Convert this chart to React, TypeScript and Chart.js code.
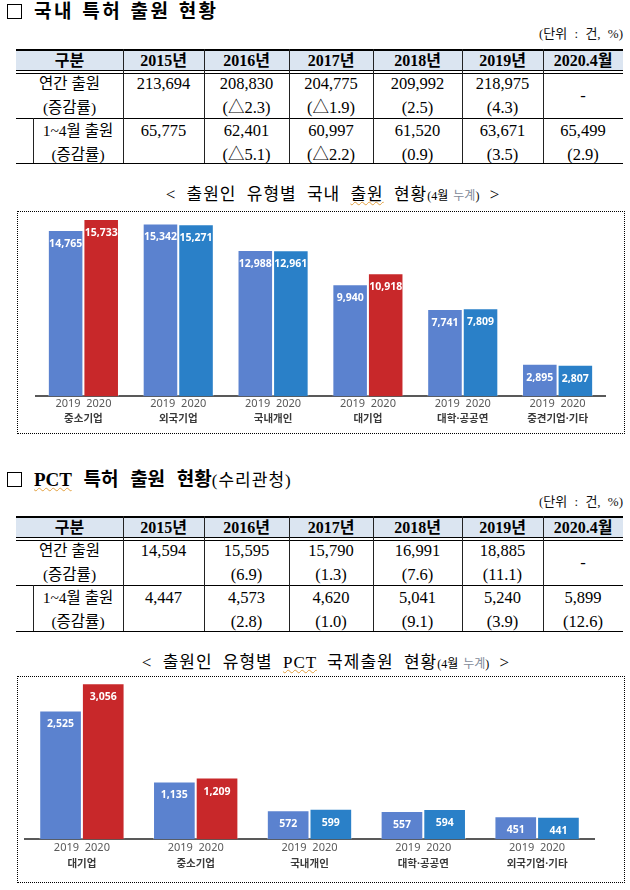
import React, { useEffect, useRef } from "react";
import { Chart, registerables } from "chart.js";

Chart.register(...registerables);

// ---------- data ----------
const seriesYears = ["2019", "2020"];

const domCategories = ["중소기업", "외국기업", "국내개인", "대기업", "대학·공공연", "중견기업·기타"];
const dom2019 = [14765, 15342, 12988, 9940, 7741, 2895];
const dom2020 = [15733, 15271, 12961, 10918, 7809, 2807];
const domHighlight = ["중소기업", "대기업"];

const pctCategories = ["대기업", "중소기업", "국내개인", "대학·공공연", "외국기업·기타"];
const pct2019 = [2525, 1135, 572, 557, 451];
const pct2020 = [3056, 1209, 599, 594, 441];
const pctHighlight = ["대기업", "중소기업"];

const tableYears = ["2015년", "2016년", "2017년", "2018년", "2019년", "2020.4월"];
const domAnnual = ["213,694", "208,830", "204,775", "209,992", "218,975", "-"];
const domAnnualRate = ["", "(△2.3)", "(△1.9)", "(2.5)", "(4.3)", ""];
const domJanApr = ["65,775", "62,401", "60,997", "61,520", "63,671", "65,499"];
const domJanAprRate = ["", "(△5.1)", "(△2.2)", "(0.9)", "(3.5)", "(2.9)"];

const pctAnnual = ["14,594", "15,595", "15,790", "16,991", "18,885", "-"];
const pctAnnualRate = ["", "(6.9)", "(1.3)", "(7.6)", "(11.1)", ""];
const pctJanApr = ["4,447", "4,573", "4,620", "5,041", "5,240", "5,899"];
const pctJanAprRate = ["", "(2.8)", "(1.0)", "(9.1)", "(3.9)", "(12.6)"];

// ---------- styles ----------
const SERIF = '"Liberation Serif", "Noto Sans CJK KR", serif';
const KR = '"Noto Sans", "Noto Sans CJK KR", sans-serif';
const BLUE19 = "#5b82cf";
const BLUE20 = "#2a80c8";
const RED = "#c8282a";
const wavy: React.CSSProperties = {
  textDecorationLine: "underline",
  textDecorationStyle: "wavy",
  textDecorationColor: "#e2a040",
  textDecorationThickness: "1px",
};

const valueLabels = {
  id: "valueLabels",
  afterDatasetsDraw(chart: any) {
    const ctx = chart.ctx;
    ctx.save();
    ctx.font = 'bold 10.5px "Noto Sans", sans-serif';
    ctx.fillStyle = "#ffffff";
    ctx.textAlign = "center";
    ctx.textBaseline = "middle";
    chart.data.datasets.forEach((ds: any, i: number) => {
      const meta = chart.getDatasetMeta(i);
      meta.data.forEach((bar: any, j: number) => {
        const v = ds.data[j] as number;
        ctx.fillText(v.toLocaleString("en-US"), bar.x, bar.y + 14);
      });
    });
    ctx.restore();
  },
};

type BarsProps = {
  categories: string[];
  v2019: number[];
  v2020: number[];
  highlight: string[];
  yMax: number;
  left: number;
  top: number;
  width: number;
  height: number;
  pad: { left: number; right: number; top: number; bottom: number };
  yearPad: number;
  catPad: number;
};

function GroupedBars(p: BarsProps) {
  const ref = useRef<HTMLCanvasElement>(null);
  useEffect(() => {
    const chart = new Chart(ref.current as HTMLCanvasElement, {
      type: "bar",
      data: {
        labels: p.categories,
        datasets: [
          {
            label: seriesYears[0],
            data: p.v2019,
            backgroundColor: BLUE19,
            borderColor: "rgba(255,255,255,0.35)",
            borderWidth: 1,
            categoryPercentage: 0.75,
            barPercentage: 1,
          },
          {
            label: seriesYears[1],
            data: p.v2020,
            backgroundColor: p.categories.map((c) => (p.highlight.includes(c) ? RED : BLUE20)),
            borderColor: "rgba(255,255,255,0.35)",
            borderWidth: 1,
            categoryPercentage: 0.75,
            barPercentage: 1,
          },
        ],
      },
      options: {
        responsive: false,
        animation: false,
        events: [],
        layout: { padding: p.pad },
        plugins: { legend: { display: false }, tooltip: { enabled: false } },
        scales: {
          x: {
            weight: 0,
            offset: true,
            grid: { display: false, drawTicks: false },
            border: { display: true, color: "#595959", width: 2 },
            ticks: {
              callback: () => seriesYears.join("  "),
              color: "#595959",
              font: { family: '"Noto Sans", sans-serif', size: 11 },
              padding: p.yearPad,
              autoSkip: false,
              maxRotation: 0,
            },
          },
          x2: {
            type: "category",
            labels: p.categories,
            position: "bottom",
            weight: 1,
            offset: true,
            grid: { display: false, drawTicks: false },
            border: { display: false },
            ticks: {
              color: "#3a3a3a",
              font: { family: KR, size: 10.5, weight: "bold" },
              padding: p.catPad,
              autoSkip: false,
              maxRotation: 0,
            },
          },
          y: { display: false, min: 0, max: p.yMax },
        },
      } as any,
      plugins: [valueLabels],
    });
    return () => chart.destroy();
  }, []);
  return (
    <canvas
      ref={ref}
      width={p.width}
      height={p.height}
      style={{ position: "absolute", left: p.left, top: p.top, width: p.width, height: p.height }}
    />
  );
}

const colX = [16, 123, 204, 289, 373, 462, 543, 623];

function Txt(props: {
  x0: number;
  x1: number;
  cy: number;
  children: React.ReactNode;
  bold?: boolean;
  size?: number;
}) {
  return (
    <div
      style={{
        position: "absolute",
        left: props.x0,
        width: props.x1 - props.x0,
        top: props.cy - 10,
        height: 20,
        lineHeight: "20px",
        textAlign: "center",
        fontFamily: SERIF,
        fontSize: props.size ?? 16.5,
        fontWeight: props.bold ? 700 : 400,
        whiteSpace: "nowrap",
        color: "#000",
      }}
    >
      {props.children}
    </div>
  );
}

function HLine({ y, h }: { y: number; h: number }) {
  return <div style={{ position: "absolute", left: 16, top: y, width: 607, height: h, background: "#000" }} />;
}

function StatTable(props: {
  top: number;
  headerBottom: number;
  row1Bottom: number;
  row2Bottom: number;
  annual: string[];
  annualRate: string[];
  janApr: string[];
  janAprRate: string[];
}) {
  const { top, headerBottom, row1Bottom, row2Bottom } = props;
  const r1 = headerBottom + 4;
  const hc = (top + 2 + headerBottom) / 2;
  const els: React.ReactNode[] = [];
  els.push(
    <div
      key="bg"
      style={{ position: "absolute", left: 16, top, width: 607, height: headerBottom - top, background: "#dbe5f1" }}
    />
  );
  els.push(<HLine key="t" y={top} h={2} />);
  els.push(<HLine key="d1" y={headerBottom} h={1} />);
  els.push(<HLine key="d2" y={headerBottom + 3} h={1} />);
  els.push(<HLine key="r1" y={row1Bottom} h={1} />);
  els.push(<HLine key="r2" y={row2Bottom} h={1} />);
  for (let i = 1; i < colX.length - 1; i++) {
    els.push(
      <div
        key={"v" + i}
        style={{ position: "absolute", left: colX[i], top, width: 1, height: row2Bottom - top, background: "#222" }}
      />
    );
  }
  els.push(
    <div
      key="vs"
      style={{ position: "absolute", left: 33, top: row1Bottom, width: 1, height: row2Bottom - row1Bottom, background: "#222" }}
    />
  );
  els.push(
    <Txt key="h0" x0={colX[0]} x1={colX[1]} cy={hc} bold size={16}>
      구분
    </Txt>
  );
  tableYears.forEach((y, i) => {
    els.push(
      <Txt key={"h" + (i + 1)} x0={colX[i + 1]} x1={colX[i + 2]} cy={hc} bold size={16}>
        {y}
      </Txt>
    );
  });
  els.push(
    <Txt key="l1" x0={colX[0]} x1={colX[1]} cy={r1 + 9.5} size={15.5}>
      연간 출원
    </Txt>
  );
  els.push(
    <Txt key="l2" x0={colX[0]} x1={colX[1]} cy={r1 + 34} size={15.5}>
      (증감률)
    </Txt>
  );
  els.push(
    <Txt key="l3" x0={33} x1={colX[1]} cy={row1Bottom + 13} size={15.5}>
      1~4월 출원
    </Txt>
  );
  els.push(
    <Txt key="l4" x0={33} x1={colX[1]} cy={row1Bottom + 36.5} size={15.5}>
      (증감률)
    </Txt>
  );
  props.annual.forEach((v, i) => {
    const isDash = v === "-";
    els.push(
      <Txt key={"a" + i} x0={colX[i + 1]} x1={colX[i + 2]} cy={isDash ? r1 + 22 : r1 + 9.5}>
        {v}
      </Txt>
    );
    if (props.annualRate[i])
      els.push(
        <Txt key={"ar" + i} x0={colX[i + 1]} x1={colX[i + 2]} cy={r1 + 34}>
          {props.annualRate[i]}
        </Txt>
      );
    els.push(
      <Txt key={"j" + i} x0={colX[i + 1]} x1={colX[i + 2]} cy={row1Bottom + 13}>
        {props.janApr[i]}
      </Txt>
    );
    if (props.janAprRate[i])
      els.push(
        <Txt key={"jr" + i} x0={colX[i + 1]} x1={colX[i + 2]} cy={row1Bottom + 36.5}>
          {props.janAprRate[i]}
        </Txt>
      );
  });
  return <>{els}</>;
}

function SectionTitle({
  cy,
  children,
  letterSpacing,
  wordSpacing,
}: {
  cy: number;
  children: React.ReactNode;
  letterSpacing: number;
  wordSpacing: number;
}) {
  return (
    <>
      <div
        style={{
          position: "absolute",
          left: 7,
          top: cy - 8,
          width: 13,
          height: 13,
          border: "1.5px solid #000",
        }}
      />
      <div
        style={{
          position: "absolute",
          left: 34,
          top: cy - 13,
          height: 26,
          lineHeight: "26px",
          fontFamily: SERIF,
          fontSize: 19,
          fontWeight: 700,
          letterSpacing,
          wordSpacing,
          whiteSpace: "nowrap",
          color: "#000",
        }}
      >
        {children}
      </div>
    </>
  );
}

function Unit({ cy }: { cy: number }) {
  return (
    <div
      style={{
        position: "absolute",
        right: 630 - 623,
        top: cy - 9,
        height: 18,
        lineHeight: "18px",
        fontFamily: SERIF,
        fontSize: 13,
        wordSpacing: 4,
        whiteSpace: "nowrap",
        color: "#111",
      }}
    >
      (단위 : 건, %)
    </div>
  );
}

function Caption({ cx, cy, children }: { cx: number; cy: number; children: React.ReactNode }) {
  return (
    <div
      style={{
        position: "absolute",
        left: cx - 300,
        width: 600,
        top: cy - 13,
        height: 26,
        lineHeight: "26px",
        textAlign: "center",
        fontFamily: SERIF,
        fontSize: 17,
        letterSpacing: 1,
        wordSpacing: 5,
        whiteSpace: "nowrap",
        color: "#000",
      }}
    >
      {children}
    </div>
  );
}

function Box({ left, top, right, bottom }: { left: number; top: number; right: number; bottom: number }) {
  return (
    <div
      style={{
        position: "absolute",
        left,
        top,
        width: right - left - 1,
        height: bottom - top - 1,
        border: "1px dotted #000",
      }}
    />
  );
}

const small: React.CSSProperties = { fontSize: 12, letterSpacing: 0, wordSpacing: 2 };

export default function App() {
  return (
    <div
      style={{
        position: "absolute",
        left: 0,
        top: 0,
        width: 630,
        height: 890,
        background: "#fff",
        overflow: "hidden",
      }}
    >
      <SectionTitle cy={12} letterSpacing={2.5} wordSpacing={1}>
        국내 특허 출원 현황
      </SectionTitle>
      <Unit cy={34} />
      <StatTable
        top={49}
        headerBottom={70}
        row1Bottom={118}
        row2Bottom={163}
        annual={domAnnual}
        annualRate={domAnnualRate}
        janApr={domJanApr}
        janAprRate={domJanAprRate}
      />
      <Caption cx={333} cy={195}>
        {"< 출원인 유형별 국내 "}
        <span style={wavy}>출원</span>
        {" 현황"}
        <span style={small}>
          (4월 <span style={{ color: "#7f8a99" }}>누계</span>)
        </span>
        {" >"}
      </Caption>
      <Box left={17} top={211} right={624} bottom={433} />
      <GroupedBars
        categories={domCategories}
        v2019={dom2019}
        v2020={dom2020}
        highlight={domHighlight}
        yMax={16000}
        left={18}
        top={213}
        width={604}
        height={218}
        pad={{ left: 18, right: 17, top: 3, bottom: 2.4 }}
        yearPad={0.4}
        catPad={2.8}
      />

      <SectionTitle cy={480} letterSpacing={0} wordSpacing={7}>
        <span style={wavy}>PCT</span> 특허 출원 현황
        <span style={{ fontSize: 17, fontWeight: 400, letterSpacing: 1, wordSpacing: 0 }}>(수리관청)</span>
      </SectionTitle>
      <Unit cy={502} />
      <StatTable
        top={516}
        headerBottom={537}
        row1Bottom={585}
        row2Bottom={631}
        annual={pctAnnual}
        annualRate={pctAnnualRate}
        janApr={pctJanApr}
        janAprRate={pctJanAprRate}
      />
      <Caption cx={326} cy={663}>
        {"< 출원인 유형별 "}
        <span style={wavy}>PCT</span>
        {" 국제출원 현황"}
        <span style={small}>
          (4월 <span style={{ color: "#7f8a99" }}>누계</span>)
        </span>
        {" >"}
      </Caption>
      <Box left={17} top={676} right={624} bottom={882} />
      <GroupedBars
        categories={pctCategories}
        v2019={pct2019}
        v2020={pct2020}
        highlight={pctHighlight}
        yMax={3100}
        left={18}
        top={678}
        width={604}
        height={202}
        pad={{ left: 7, right: 28, top: 3, bottom: 6.4 }}
        yearPad={1.4}
        catPad={2.8}
      />
    </div>
  );
}
